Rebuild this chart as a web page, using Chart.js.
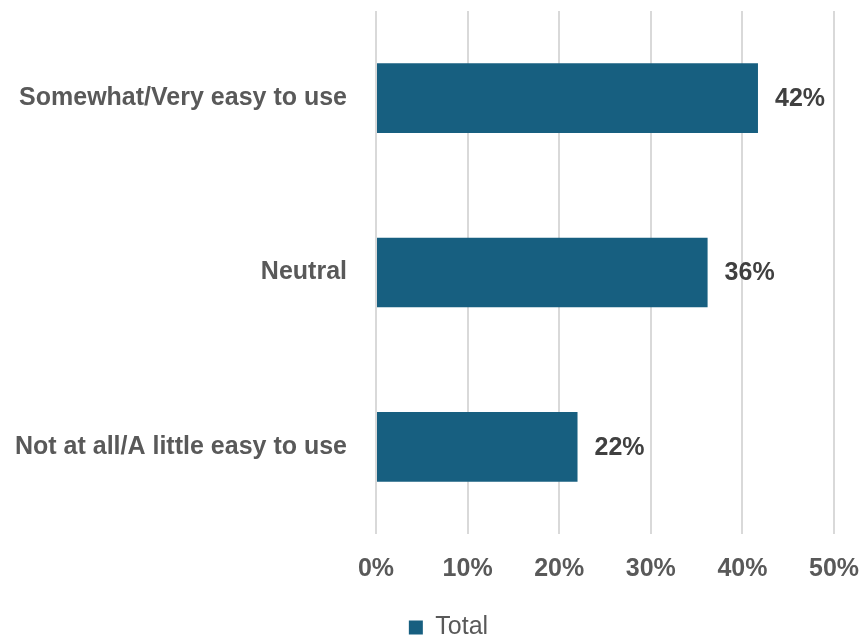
<!DOCTYPE html>
<html>
<head>
<meta charset="utf-8">
<script src="https://cdn.jsdelivr.net/npm/chart.js@4"></script>
<style>
  html, body { margin: 0; padding: 0; background: #fff; }
  #wrap { width: 859px; height: 636px; }
</style>
</head>
<body>
<div id="wrap"><canvas id="myChart"></canvas></div>
<script>
const categories = ['Somewhat/Very easy to use', 'Neutral', 'Not at all/A little easy to use'];
const totalValues = [41.7, 36.2, 22.0];
const tickValues = [0, 10, 20, 30, 40, 50];

const FONT = '"Liberation Sans", Arial, sans-serif';

// draws the % label just right of each bar
const barLabels = {
    id: 'barLabels',
    afterDatasetsDraw(chart) {
        const ctx = chart.ctx;
        const meta = chart.getDatasetMeta(0);
        ctx.save();
        ctx.font = 'bold 25px ' + FONT;
        ctx.fillStyle = '#404040';
        ctx.textAlign = 'left';
        ctx.textBaseline = 'middle';
        meta.data.forEach((bar, i) => {
            ctx.fillText(Math.round(totalValues[i]) + '%', bar.x + 17, bar.y + 1);
        });
        ctx.restore();
    }
};

// nudge the legend right and down, like the original
const legendShift = {
    id: 'legendShift',
    afterLayout(chart) {
        chart.legend.left += 19;
        chart.legend.right += 19;
        chart.legend.top += 36;
        chart.legend.bottom += 36;
    }
};

new Chart(document.getElementById('myChart').getContext('2d'), {
    type: 'bar',
    data: {
        labels: categories,
        datasets: [{
            label: 'Total',
            data: totalValues,
            backgroundColor: '#175f80',
            borderWidth: 0,
            categoryPercentage: 1.0,
            barPercentage: 0.4
        }]
    },
    options: {
        indexAxis: 'y',
        responsive: true,
        maintainAspectRatio: false,
        animation: false,
        layout: { padding: { top: 11, left: 0, right: 0, bottom: 22 } },
        scales: {
            x: {
                min: 0,
                max: 50,
                afterBuildTicks(axis) {
                    axis.ticks = tickValues.map(v => ({ value: v }));
                },
                afterFit(axis) {
                    axis.height = 45;
                    axis.paddingLeft = 0;
                    axis.paddingRight = 25;
                },
                grid: { color: '#d9d9d9', lineWidth: 2, drawTicks: false },
                border: { display: false },
                ticks: {
                    padding: 23,
                    color: '#595959',
                    font: { family: FONT, size: 25, weight: 'bold', lineHeight: 1.0 },
                    callback: v => v + '%'
                }
            },
            y: {
                afterFit(axis) {
                    axis.width = 376;
                    axis.paddingTop = 0;
                    axis.paddingBottom = 0;
                },
                grid: { display: false, drawTicks: false },
                border: { display: false },
                ticks: {
                    padding: 29,
                    color: '#595959',
                    font: { family: FONT, size: 25, weight: 'bold' }
                }
            }
        },
        plugins: {
            legend: {
                position: 'bottom',
                labels: {
                    boxWidth: 14,
                    boxHeight: 14,
                    padding: 0,
                    color: '#595959',
                    font: { family: FONT, size: 25 }
                }
            },
            tooltip: { enabled: false }
        }
    },
    plugins: [barLabels, legendShift]
});
</script>
</body>
</html>
